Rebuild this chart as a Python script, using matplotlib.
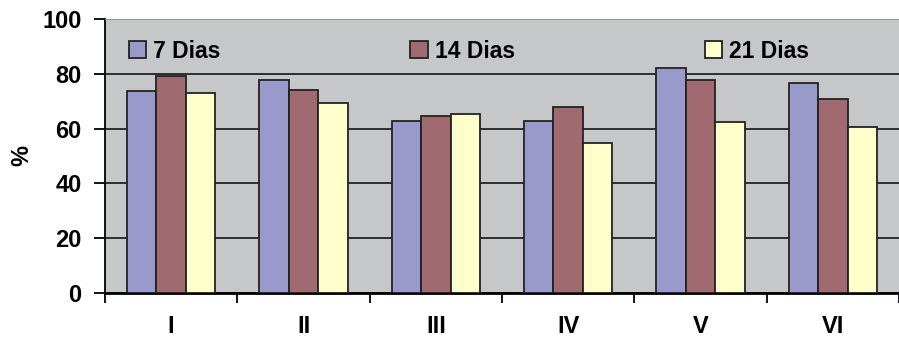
import numpy as np
import matplotlib.pyplot as plt
from matplotlib.ticker import FixedLocator

categories = ['I', 'II', 'III', 'IV', 'V', 'VI']
series_names = ['7 Dias', '14 Dias', '21 Dias']
dias7 = [73.7, 77.7, 62.9, 62.9, 82.2, 76.5]
dias14 = [79.2, 74.0, 64.6, 67.9, 77.7, 70.9]
dias21 = [73.1, 69.3, 65.3, 54.9, 62.4, 60.7]
colors = ['#9999cc', '#a06b70', '#ffffcc']

plt.rcParams['font.family'] = ['Liberation Sans', 'DejaVu Sans']
plt.rcParams['font.weight'] = 'bold'

fig = plt.figure(figsize=(8.99, 3.5), dpi=100)
ax = fig.add_axes([0.1168, 0.163, 0.8832, 0.7827])
ax.set_facecolor('#c6c7c9')

x = np.arange(len(categories))
w = 0.222
for i, (vals, name) in enumerate(zip([dias7, dias14, dias21], series_names)):
    ax.bar(x + (i - 1) * w, vals, width=w, color=colors[i], edgecolor='#222222',
           linewidth=1.3, label=name, zorder=3)

ax.set_ylim(0, 100)
ax.set_xlim(-0.5, len(categories) - 0.5)
ax.set_yticks([0, 20, 40, 60, 80, 100])
ax.yaxis.grid(True, color='#222222', linewidth=1.3, zorder=0)
ax.set_axisbelow(True)

ax.xaxis.set_major_locator(FixedLocator(np.arange(-0.5, len(categories), 1)))
ax.xaxis.set_major_formatter(plt.NullFormatter())
ax.set_xticks(x, minor=True)
ax.set_xticklabels(categories, minor=True)
ax.tick_params(axis='x', which='minor', length=0, pad=16, labelsize=17)
ax.tick_params(axis='x', which='major', length=7, width=1.3, direction='out')
ax.tick_params(axis='y', length=8, width=1.3, pad=9, labelsize=17)

ax.spines['top'].set_color('#999999')
ax.spines['right'].set_visible(False)
ax.spines['left'].set_linewidth(1.3)
ax.spines['bottom'].set_linewidth(2)

ax.set_ylabel('%', fontsize=17, fontweight='bold')
ax.yaxis.set_label_coords(-0.09, 0.5)

leg = ax.legend(loc='upper left', bbox_to_anchor=(0.004, 1.0), ncol=3, frameon=False,
                handlelength=0.75, handleheight=0.75, handletextpad=0.3,
                columnspacing=8.3, prop={'weight': 'bold', 'size': 16.5})
for h in leg.legend_handles:
    h.set_edgecolor('#222222')
    h.set_linewidth(1.3)

fig.savefig('out.png', dpi=100)
